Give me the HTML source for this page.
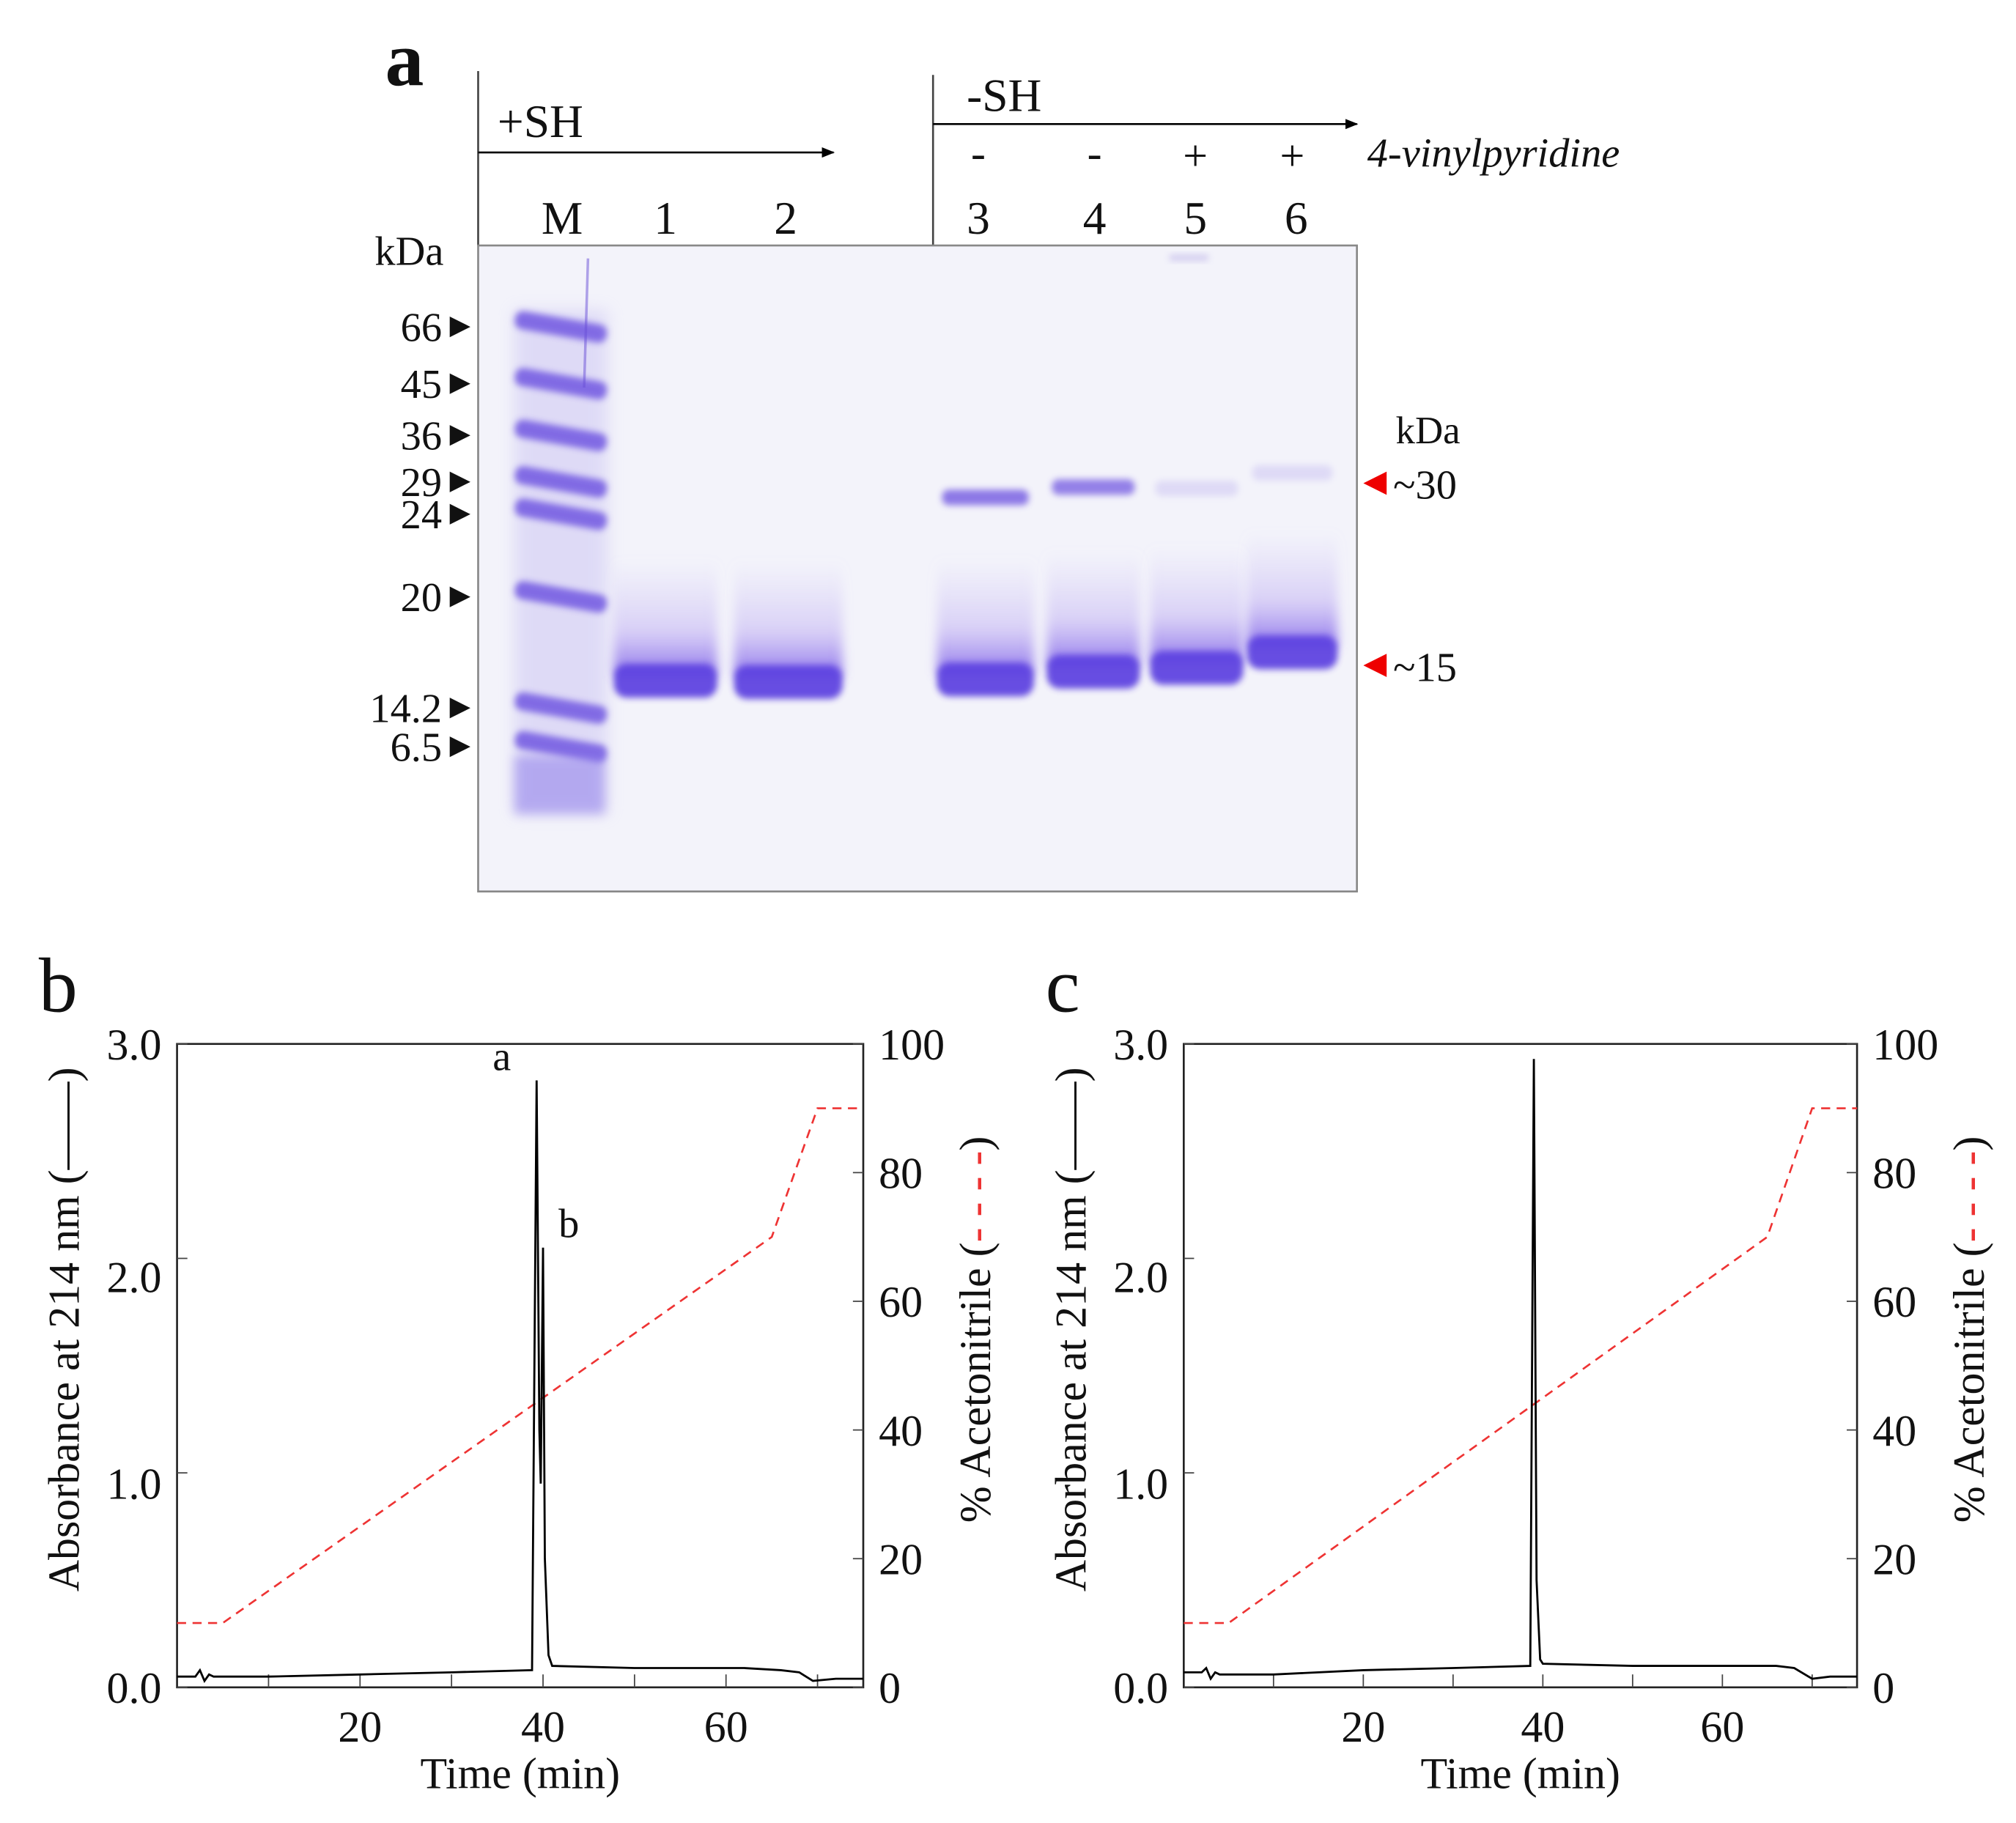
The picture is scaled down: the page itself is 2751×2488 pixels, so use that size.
<!DOCTYPE html>
<html><head><meta charset="utf-8"><style>
html,body{margin:0;padding:0;background:#fff}
svg{display:block}
text{font-family:"Liberation Serif",serif;fill:#111}
</style></head><body>
<svg id="fig" width="2751" height="2488" viewBox="0 0 1560 1411" preserveAspectRatio="none" xmlns="http://www.w3.org/2000/svg">
<defs>
<filter id="blur4" x="-50%" y="-50%" width="200%" height="200%"><feGaussianBlur stdDeviation="4"/></filter>
<filter id="blur2" x="-50%" y="-50%" width="200%" height="200%"><feGaussianBlur stdDeviation="2.5"/></filter>
<filter id="blur8" x="-50%" y="-50%" width="200%" height="200%"><feGaussianBlur stdDeviation="6"/></filter>
<linearGradient id="smear" x1="0" y1="0" x2="0" y2="1">
<stop offset="0" stop-color="#b8a8f4" stop-opacity="0"/>
<stop offset="0.6" stop-color="#a890f0" stop-opacity="0.35"/>
<stop offset="1" stop-color="#7a5ce8" stop-opacity="0.85"/>
</linearGradient>
<marker id="arr" markerWidth="10" markerHeight="8" refX="9" refY="4" orient="auto" markerUnits="userSpaceOnUse"><path d="M0,0 L10,4 L0,8 z" fill="#000"/></marker>
</defs>

<g>
<text x="298" y="66" font-size="60" font-weight="bold">a</text>
<line x1="370" y1="55" x2="370" y2="190" stroke="#444" stroke-width="1.5"/>
<line x1="722" y1="58" x2="722" y2="190" stroke="#444" stroke-width="1.5"/>
<text x="385" y="106" font-size="36">+SH</text>
<line x1="370" y1="118" x2="645" y2="118" stroke="#000" stroke-width="1.5" marker-end="url(#arr)"/>
<text x="748" y="86" font-size="36">-SH</text>
<line x1="722" y1="96" x2="1050" y2="96" stroke="#000" stroke-width="1.5" marker-end="url(#arr)"/>
<text x="1058" y="129" font-size="32" font-style="italic">4-vinylpyridine</text>
<g font-size="34" text-anchor="middle">
<text x="757" y="130">-</text><text x="847" y="130">-</text><text x="925" y="132">+</text><text x="1000" y="132">+</text>
</g>
<g font-size="36" text-anchor="middle">
<text x="435" y="181">M</text><text x="515" y="181">1</text><text x="608" y="181">2</text><text x="757" y="181">3</text><text x="847" y="181">4</text><text x="925" y="181">5</text><text x="1003" y="181">6</text>
</g>
<text x="290" y="205" font-size="32">kDa</text>
<rect x="370" y="190" width="680" height="500" fill="#f3f3fa" stroke="#888" stroke-width="1.5"/>
<g id="gel-bands"></g>
<g id="marker-labels"></g>
<text x="1080" y="343" font-size="30">kDa</text>
<path d="M1055,374 L1073,365 L1073,383 z" fill="#e00"/>
<text x="1078" y="386" font-size="32">~30</text>
<path d="M1055,515 L1073,506 L1073,524 z" fill="#e00"/>
<text x="1078" y="527" font-size="32">~15</text>
</g>

<g id="chart-b"></g>
<g id="chart-c"></g>
</svg>

<script>
// ---- Gel data ----
const markerKDa = ["66","45","36","29","24","20","14.2","6.5"];
const markerY = [253, 297, 337, 373, 398, 462, 548, 578];
// ---- Chromatogram data ----
const timeB = [0,2,2.5,3,3.5,4,10,20,30,38.8,39.3,39.6,39.75,40.0,40.2,40.6,41,50,62,66,68,69.5,72,75];
const absB  = [0.05,0.05,0.08,0.03,0.06,0.05,0.05,0.06,0.07,0.08,2.83,1.2,0.95,2.05,0.6,0.15,0.1,0.09,0.09,0.08,0.07,0.03,0.04,0.04];
const timeC = [0,2,2.5,3,3.5,4,10,20,30,38.6,39.0,39.3,39.7,40,50,60,66,68,70,72,75];
const absC  = [0.07,0.07,0.09,0.04,0.07,0.06,0.06,0.08,0.09,0.1,2.93,0.5,0.13,0.11,0.1,0.1,0.1,0.09,0.04,0.05,0.05];
const gradTime = [0,5,65,70,75];
const gradPct  = [10,10,70,90,90];
const xTicks = [20,40,60];
const xMinor = [10,30,50,70];
const leftTicks = ["0.0","1.0","2.0","3.0"];
const rightTicks = ["0","20","40","60","80","100"];

const NS = "http://www.w3.org/2000/svg";
function mk(tag, attrs, parent){const e=document.createElementNS(NS,tag);for(const k in attrs)e.setAttribute(k,attrs[k]);parent.appendChild(e);return e;}

const gb = document.getElementById('gel-bands');
const ml = document.getElementById('marker-labels');
mk('rect',{x:398,y:240,width:72,height:390,fill:'#b8aef0',opacity:0.35,filter:'url(#blur8)'},gb);
markerY.forEach((y,i)=>{
  const b = mk('rect',{x:398,y:y-7,width:72,height:14,rx:6,fill:'#6a50e0',opacity:0.8,filter:'url(#blur2)',transform:`rotate(10 434 ${y})`},gb);
  
  
  const t = mk('text',{x:342,y:y+11,'font-size':32,'text-anchor':'end'},ml);
  t.textContent = markerKDa[i];
  
  
  const a = mk('path',{d:`M348,${y-8} L364,${y} L348,${y+8} z`,fill:'#111'},ml);
  
  
});
mk('rect',{x:398,y:585,width:70,height:45,fill:'#8a78ea',opacity:0.5,filter:'url(#blur4)'},gb);
mk('line',{x1:455,y1:200,x2:452,y2:300,stroke:'#6a50d8','stroke-width':2,opacity:0.5},gb);
const lanes = [[475,80,528,null,0],[568,84,529,null,0],[725,75,527,385,0.75],[810,72,521,377,0.7],[890,72,518,378,0.15],[965,70,506,366,0.15]];
lanes.forEach(L=>{
  const [x,w,y,ty,to]=L;
  const s = mk('rect',{x:x,y:y-95,width:w,height:90,fill:'url(#smear)',filter:'url(#blur4)'},gb);
  
  
  const m = mk('rect',{x:x,y:y-14,width:w,height:26,rx:10,fill:'#5b3fe0',opacity:0.92,filter:'url(#blur2)'},gb);
  
  
  if(ty){
    const t = mk('rect',{x:x+4,y:ty-6,width:w-8,height:12,rx:5,fill:'#6a4fe0',opacity:to,filter:'url(#blur2)'},gb);
    
    
  }
});
mk('rect',{x:905,y:197,width:30,height:5,fill:'#8b78d8',opacity:0.3,filter:'url(#blur2)'},gb);

function chart(gid, box, times, abs, letter, labels){
  const g = document.getElementById(gid);
  const [x0,y0,x1,y1] = box;
  const sx = t => x0 + (t/75)*(x1-x0);
  const sy = v => y1 - (v/3)*(y1-y0);
  const sr = p => y1 - (p/100)*(y1-y0);
  const L = mk('text',{x:x0-107,y:y0-25,'font-size':60},g); L.textContent=letter;
   
  const fr = mk('rect',{x:x0,y:y0,width:x1-x0,height:y1-y0,fill:'none',stroke:'#222','stroke-width':1.5},g);
   
  xTicks.concat(xMinor).forEach(t=>mk('line',{x1:sx(t),y1:y1,x2:sx(t),y2:y1-10,stroke:'#444','stroke-width':1},g));
  xTicks.forEach(t=>{const e=mk('text',{x:sx(t),y:y1+42,'font-size':34,'text-anchor':'middle'},g);e.textContent=t;
     });
  leftTicks.forEach((t,i)=>{const v=+t;mk('line',{x1:x0,y1:sy(v),x2:x0+8,y2:sy(v),stroke:'#444'},g);
    const e=mk('text',{x:x0-12,y:sy(v)+12+(i==1?8:i==2?14:0),'font-size':34,'text-anchor':'end'},g);e.textContent=t;
     });
  rightTicks.forEach(t=>{const v=+t;mk('line',{x1:x1,y1:sr(v),x2:x1-8,y2:sr(v),stroke:'#444'},g);
    const e=mk('text',{x:x1+12,y:sr(v)+12,'font-size':34},g);e.textContent=t;
     });
  const xt = mk('text',{x:(x0+x1)/2,y:y1+78,'font-size':34,'text-anchor':'middle'},g); xt.textContent='Time (min)';
   
  const yt = mk('text',{x:0,y:0,'font-size':34,'text-anchor':'middle',transform:`translate(${x0-76},${(y0+y1)/2-28}) rotate(-90)`},g);
  yt.textContent='Absorbance at 214 nm (——)';
   
  const rt = mk('text',{x:0,y:0,'font-size':34,'text-anchor':'middle',transform:`translate(${x1+98},${(y0+y1)/2-28}) rotate(-90)`},g);
  rt.innerHTML='% Acetonitrile (<tspan fill="#e33">- - - -</tspan>)';
   
  const gp = mk('polyline',{points:gradTime.map((t,i)=>sx(t)+','+sr(gradPct[i])).join(' '),fill:'none',stroke:'#e33','stroke-width':1.5,'stroke-dasharray':'7,5'},g);
   
  const ap = mk('polyline',{points:times.map((t,i)=>sx(t)+','+sy(abs[i])).join(' '),fill:'none',stroke:'#000','stroke-width':1.6},g);
   
  labels.forEach(l=>{const e=mk('text',{x:sx(l[1])+l[3],y:sy(l[2])-8,'font-size':32},g);e.textContent=l[0];
     });
}
chart('chart-b',[137,808,668,1306],timeB,absB,'b',[['a',39.3,2.83,-34],['b',40.0,2.05,12]]);
chart('chart-c',[916,808,1437,1306],timeC,absC,'c',[]);
</script>
</body></html>
